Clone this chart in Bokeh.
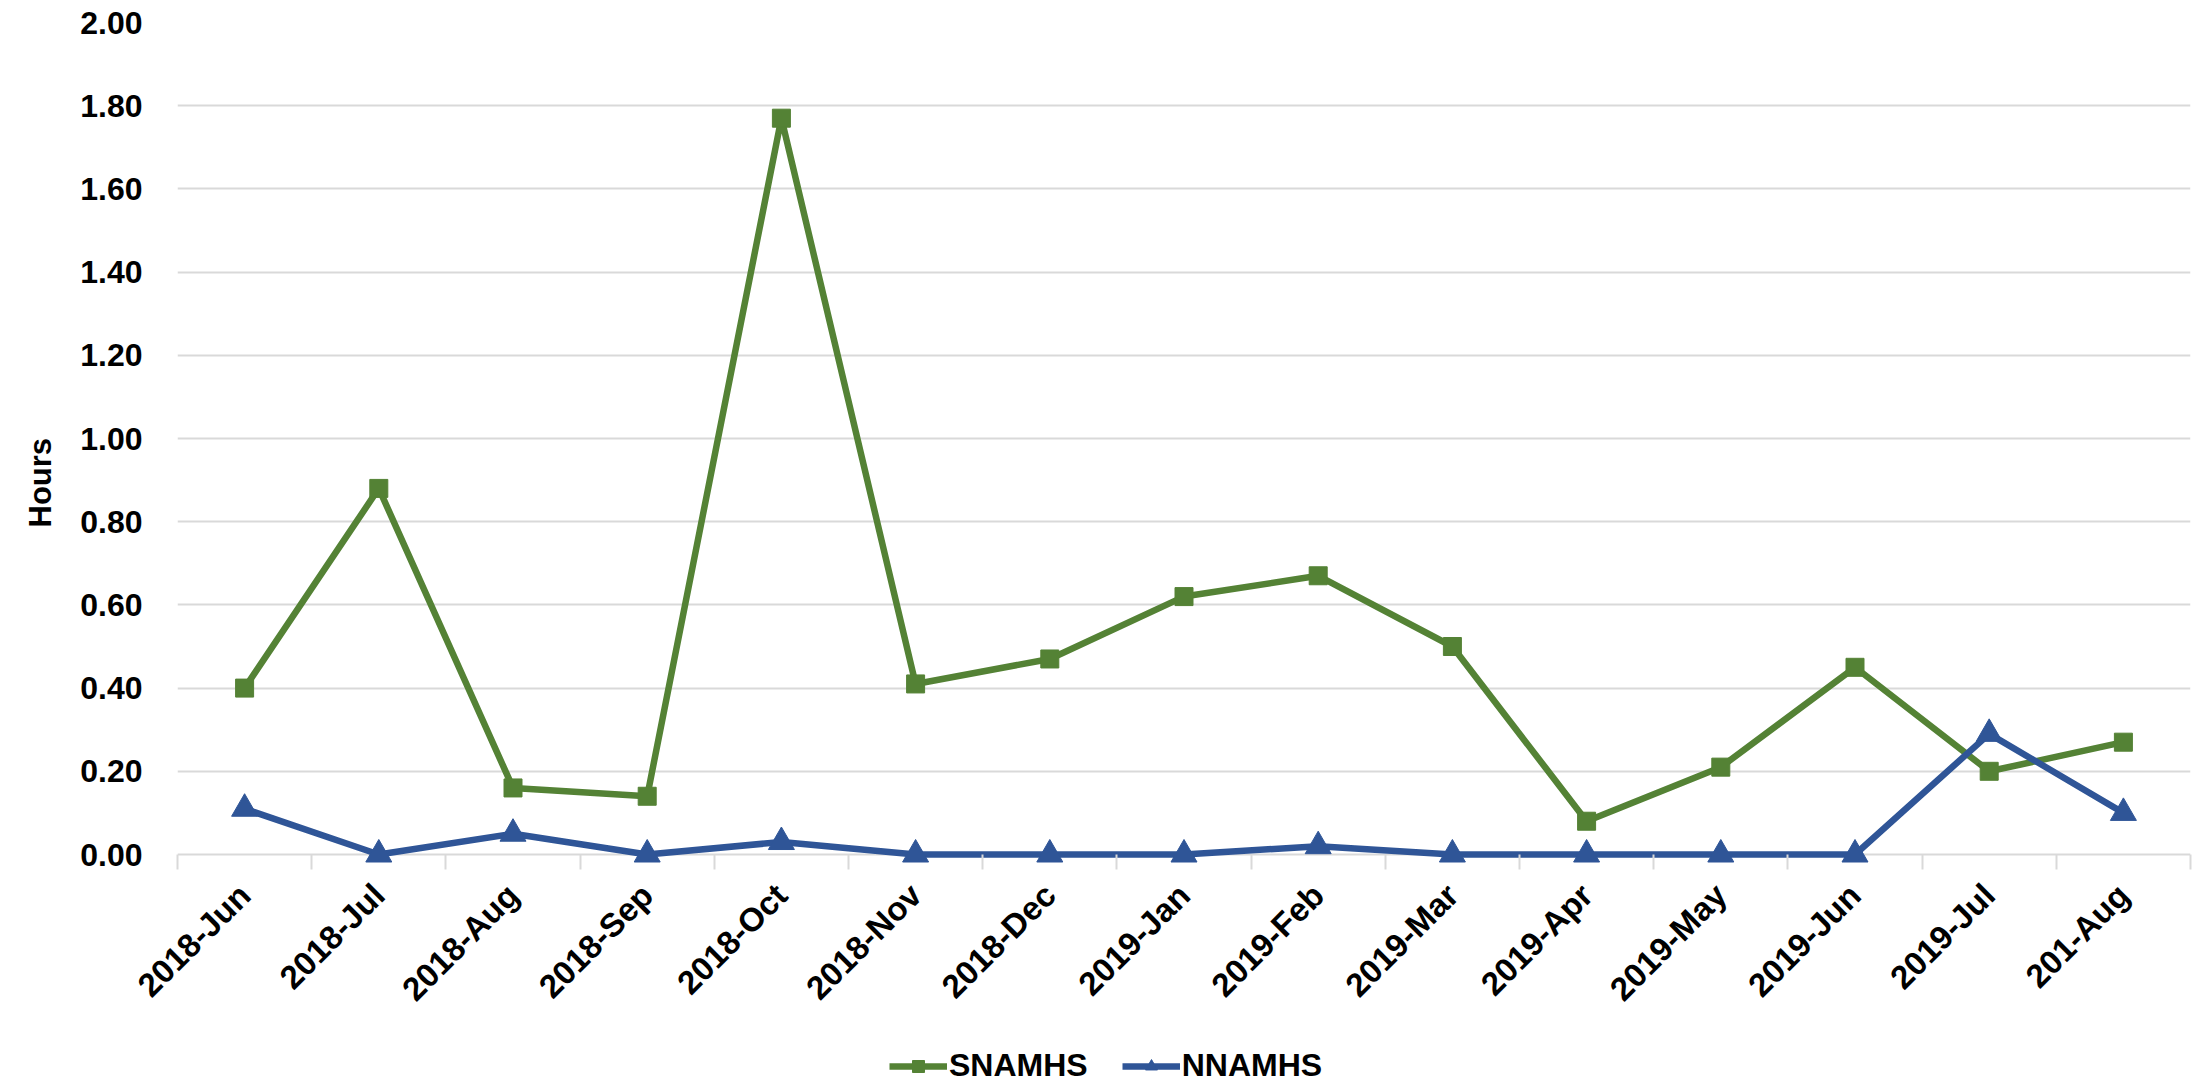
import math
from bokeh.plotting import figure
from bokeh.layouts import column
from bokeh.models import (Range1d, FixedTicker, LinearAxis, Legend, LegendItem,
                          NumeralTickFormatter, ColumnDataSource, Grid, Title)
from bokeh.embed import file_html
from bokeh.resources import INLINE

months = ["2018-Jun", "2018-Jul", "2018-Aug", "2018-Sep", "2018-Oct", "2018-Nov",
          "2018-Dec", "2019-Jan", "2019-Feb", "2019-Mar", "2019-Apr", "2019-May",
          "2019-Jun", "2019-Jul", "201-Aug"]
snamhs = [0.40, 0.88, 0.16, 0.14, 1.77, 0.41, 0.47, 0.62, 0.67, 0.50, 0.08, 0.21, 0.45, 0.20, 0.27]
nnamhs = [0.11, 0.00, 0.05, 0.00, 0.03, 0.00, 0.00, 0.00, 0.02, 0.00, 0.00, 0.00, 0.00, 0.29, 0.10]
y_ticks = [0.0, 0.2, 0.4, 0.6, 0.8, 1.0, 1.2, 1.4, 1.6, 1.8, 2.0]
series_names = ["SNAMHS", "NNAMHS"]
y_title = "Hours"

GREEN = "#548235"
BLUE = "#2F5597"
GRID = "#d9d9d9"
FONT = "Liberation Sans"
LW = 6.5
SQ = 18
TRI = 26

n = len(months)
xs = [i + 0.5 for i in range(n)]
src = ColumnDataSource(dict(x=xs, s=snamhs, nn=nnamhs))

# frame: y=2.00 at page 22, y=0.00 at page 854; a small pad below 0 so markers
# sitting on the zero line are not clipped by the frame
PX_PER_UNIT = (854 - 22) / 2.0
PAD = 15
W = 2192
BOTTOM = 170
H1 = 854 + PAD + BOTTOM
H2 = 1084 - H1
p = figure(width=W, height=H1, output_backend="svg", toolbar_location=None,
           x_range=Range1d(0, n), y_range=Range1d(-PAD / PX_PER_UNIT, 2.0),
           x_axis_location=None, y_axis_location=None,
           min_border_left=177, min_border_right=W - 2190, min_border_top=22,
           min_border_bottom=BOTTOM)
p.outline_line_color = None
p.background_fill_color = "white"
p.border_fill_color = "white"
for g in p.grid:
    g.visible = False

# y axis
yax = LinearAxis(ticker=FixedTicker(ticks=y_ticks),
                 formatter=NumeralTickFormatter(format="0.00"))
yax.axis_line_color = None
yax.major_tick_line_color = None
yax.minor_tick_line_color = None
yax.major_tick_out = 0
yax.major_label_standoff = 35
yax.major_label_text_font = FONT
yax.major_label_text_font_style = "bold"
yax.major_label_text_font_size = "32px"
yax.major_label_text_color = "black"
p.add_layout(yax, "left")

p.add_layout(Title(text=y_title, align="left", offset=327 + PAD, standoff=40,
                   text_font=FONT, text_font_style="bold", text_font_size="31px",
                   text_color="black"), "left")

# x axis: labels at category centres, ticks at boundaries (baseline is the 0 gridline)
xax = LinearAxis(ticker=FixedTicker(ticks=xs, minor_ticks=list(range(n + 1))),
                 major_label_overrides={x: m for x, m in zip(xs, months)})
xax.axis_line_color = None
xax.major_tick_line_color = None
xax.major_tick_out = 0
xax.major_tick_in = 0
xax.minor_tick_line_color = GRID
xax.minor_tick_line_width = 2
xax.minor_tick_out = 0
xax.minor_tick_in = PAD
xax.major_label_orientation = math.pi / 4
xax.major_label_standoff = 35 - PAD
xax.major_label_text_font = FONT
xax.major_label_text_font_style = "bold"
xax.major_label_text_font_size = "33px"
xax.major_label_text_color = "black"
p.add_layout(xax, "below")

p.add_layout(Grid(dimension=1, ticker=yax.ticker, grid_line_color=GRID, grid_line_width=2))

p.line("x", "s", source=src, color=GREEN, line_width=LW)
p.scatter("x", "s", source=src, marker="square", size=SQ, color=GREEN)
p.line("x", "nn", source=src, color=BLUE, line_width=LW)
p.scatter("x", "nn", source=src, marker="triangle", size=TRI, color=BLUE)

# legend strip below the chart (proxy renderers are hidden; only their legend glyphs show)
q = figure(width=W, height=H2, output_backend="svg", toolbar_location=None,
           x_range=Range1d(0, n), y_range=Range1d(0, 2.0),
           x_axis_location=None, y_axis_location=None,
           min_border_left=0, min_border_right=0, min_border_top=0, min_border_bottom=0)
q.outline_line_color = None
q.background_fill_color = "white"
q.border_fill_color = "white"
for g in q.grid:
    g.visible = False
a1 = q.line("x", "s", source=src, color=GREEN, line_width=LW, visible=False)
b1 = q.scatter("x", "s", source=src, marker="square", size=SQ, color=GREEN, visible=False)
a2 = q.line("x", "nn", source=src, color=BLUE, line_width=LW, visible=False)
b2 = q.scatter("x", "nn", source=src, marker="triangle", size=TRI, color=BLUE, visible=False)
legend = Legend(items=[LegendItem(label=series_names[0], renderers=[a1, b1]),
                       LegendItem(label=series_names[1], renderers=[a2, b2])],
                orientation="horizontal", location=(712, 0),
                label_text_font=FONT, label_text_font_style="bold",
                label_text_font_size="32px", label_text_color="black",
                glyph_width=58, glyph_height=30, label_standoff=2, spacing=34,
                padding=0, margin=0, border_line_color=None,
                background_fill_alpha=0, click_policy="none")
q.add_layout(legend, "center")

open("out.html", "w").write(file_html(column(p, q, spacing=0), INLINE))
